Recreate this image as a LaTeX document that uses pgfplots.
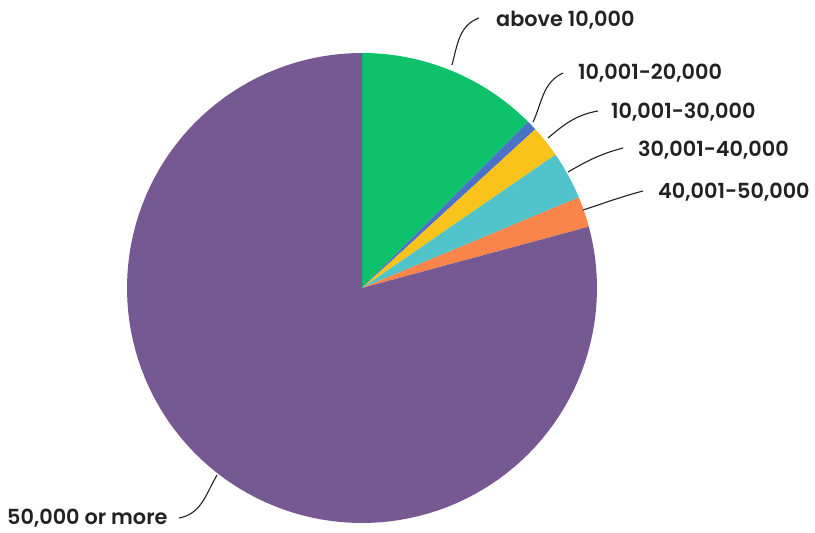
\documentclass[border=0pt]{standalone}
\usepackage{fontspec}
\setmainfont{Poppins}[BoldFont={Poppins SemiBold}]
\usepackage{pgfplots}
\usepackage{pgfplotstable}
\pgfplotsset{compat=1.18}
\definecolor{cgreen}{HTML}{0DC26B}
\definecolor{cblue}{HTML}{4A72C6}
\definecolor{cyellow}{HTML}{F9C31C}
\definecolor{cteal}{HTML}{50C3CB}
\definecolor{corange}{HTML}{F9854A}
\definecolor{cpurple}{HTML}{765893}
\definecolor{ctext}{HTML}{222222}
\pgfplotstableread{
label value
green 12.5
blue 0.7
yellow 2.2
teal 3.3
orange 2.1
purple 79.2
}\piedata
\begin{document}
\begin{tikzpicture}
\begin{axis}[hide axis, scale only axis, width=815pt, height=533pt,
  xmin=0, xmax=815, ymin=0, ymax=533, clip=false]
\path (axis cs:0,0) rectangle (axis cs:815,533);
\pgfplotstablegetrowsof{\piedata}
\pgfmathtruncatemacro\N{\pgfplotsretval-1}
\gdef\cum{0}
\pgfplotsforeachungrouped \i in {0,...,\N}{
  \pgfplotstablegetelem{\i}{value}\of\piedata \let\v\pgfplotsretval
  \pgfplotstablegetelem{\i}{label}\of\piedata \let\c\pgfplotsretval
  \pgfmathsetmacro\a{90-3.6*(\cum+\v)}
  \pgfmathsetmacro\b{90-3.6*\cum}
  \edef\temp{\noexpand\addplot[fill=c\c, draw=none, domain=\a:\b, samples=120] ({362+235*cos(x)},{245+235*sin(x)}) -- (axis cs:362,245) -- cycle;}
  \temp
  \pgfmathsetmacro\newcum{\cum+\v}
  \global\let\cum\newcum
}
\begin{scope}[ctext, line width=1.1pt]
\draw (axis cs:452,468) to[out=75,in=200] (axis cs:479,515);
\draw (axis cs:533,411) to[out=65,in=205] (axis cs:563,460);
\draw (axis cs:548,395) to[out=40,in=190] (axis cs:598,422);
\draw (axis cs:568,361) to[out=30,in=195] (axis cs:623,385);
\draw (axis cs:583,323) to[out=18,in=195] (axis cs:643,342);
\draw (axis cs:217,58) to[out=240,in=10] (axis cs:179,15);
\end{scope}
\begin{scope}[every node/.style={anchor=west, inner sep=0pt, text=ctext, font=\fontsize{20.8}{22}\selectfont\bfseries}]
\node at (axis cs:496,513) {above 10,000};
\node at (axis cs:578,460) {10,001-20,000};
\node at (axis cs:611,421) {10,001-30,000};
\node at (axis cs:638,383) {30,001-40,000};
\node at (axis cs:658,341) {40,001-50,000};
\node at (axis cs:7,15) {50,000 or more};
\end{scope}
\end{axis}
\end{tikzpicture}
\end{document}
